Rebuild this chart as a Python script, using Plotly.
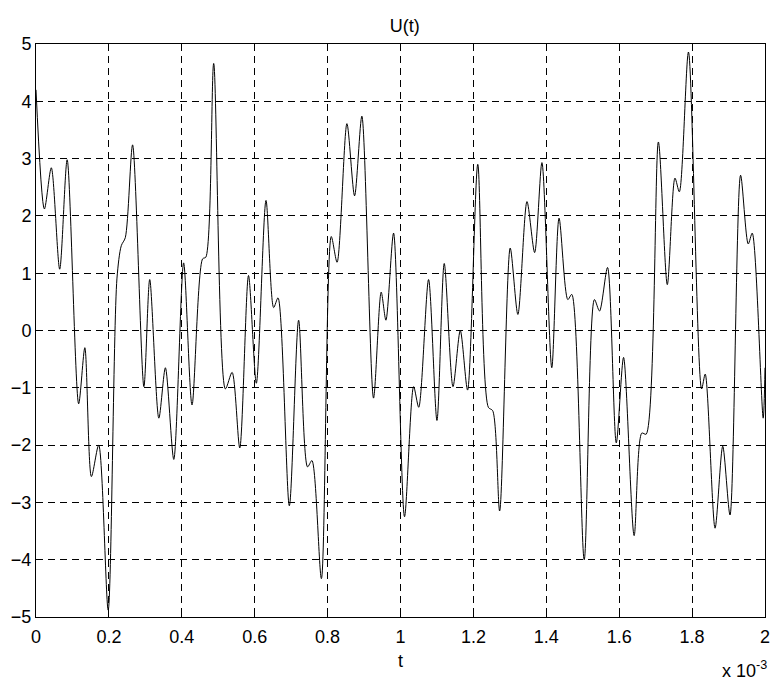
import plotly.graph_objects as go

# time in units of 1e-3 s, signal value U(t)
t_ms = [0.000, 0.023, 0.042, 0.065, 0.0855, 0.117, 0.134, 0.152, 0.172, 0.198,
        0.222, 0.234, 0.245, 0.265, 0.296, 0.312, 0.337, 0.355, 0.378, 0.405,
        0.428, 0.457, 0.466, 0.4875, 0.5195, 0.538, 0.559, 0.583, 0.6045, 0.631,
        0.652, 0.664, 0.695, 0.7205, 0.745, 0.757, 0.783, 0.810, 0.826, 0.853,
        0.874, 0.894, 0.926, 0.947, 0.960, 0.981, 1.011, 1.036, 1.050, 1.077,
        1.100, 1.120, 1.144, 1.164, 1.184, 1.212, 1.241, 1.253, 1.272, 1.301,
        1.322, 1.347, 1.368, 1.388, 1.415, 1.435, 1.459, 1.470, 1.504, 1.532,
        1.546, 1.568, 1.592, 1.612, 1.641, 1.662, 1.674, 1.7075, 1.732, 1.753,
        1.765, 1.790, 1.826, 1.836, 1.863, 1.884, 1.904, 1.933, 1.954, 1.965,
        1.995, 2.000]
u_vals = [4.20, 2.12, 2.84, 1.07, 2.98, -1.28, -0.30, -2.55, -2.00, -4.88,
          0.90, 1.48, 1.62, 3.24, -0.98, 0.89, -1.53, -0.65, -2.25, 1.18,
          -1.30, 1.25, 1.28, 4.66, -1.02, -0.73, -2.05, 0.96, -0.92, 2.27,
          0.40, 0.57, -3.06, 0.18, -2.38, -2.27, -4.33, 1.64, 1.19, 3.61,
          2.35, 3.74, -1.18, 0.67, 0.18, 1.70, -3.25, -0.98, -1.34, 0.89,
          -1.57, 1.17, -0.98, 0.00, -1.04, 2.90, -1.34, -1.40, -3.15, 1.44,
          0.28, 2.25, 1.36, 2.93, -0.65, 1.96, 0.54, 0.63, -4.00, 0.54,
          0.34, 1.10, -1.96, -0.47, -3.58, -1.79, -1.81, 3.29, 0.80, 2.66,
          2.42, 4.86, -1.02, -0.76, -3.45, -2.02, -3.22, 2.71, 1.51, 1.70,
          -1.53, -0.65]

x_ticks = [0, 0.2, 0.4, 0.6, 0.8, 1.0, 1.2, 1.4, 1.6, 1.8, 2.0]
x_tick_labels = ["0", "0.2", "0.4", "0.6", "0.8", "1", "1.2", "1.4", "1.6", "1.8", "2"]
y_ticks = [-5, -4, -3, -2, -1, 0, 1, 2, 3, 4, 5]

font_family = "Liberation Sans, Arial, sans-serif"
FS = 18

fig = go.Figure()
fig.add_trace(go.Scatter(
    x=t_ms, y=u_vals, mode="lines",
    line=dict(color="black", width=1, shape="spline", smoothing=0.8),
    showlegend=False, hoverinfo="x+y"))

axis_common = dict(
    showline=True, linecolor="black", linewidth=1, mirror="ticks",
    ticks="inside", ticklen=6, tickcolor="black",
    showgrid=True, gridcolor="black", gridwidth=1, griddash="7px,5px",
    zeroline=False, automargin=False,
    tickfont=dict(family=font_family, size=FS, color="black"),
)

fig.update_layout(
    width=771, height=682,
    paper_bgcolor="white", plot_bgcolor="white",
    margin=dict(l=36, r=6, t=44, b=65, autoexpand=False),
    title=dict(text="U(t)", x=0.525, xanchor="center", y=0.963, yanchor="middle",
               font=dict(family=font_family, size=FS, color="black")),
    xaxis=dict(range=[0, 2], tickvals=x_ticks, ticktext=x_tick_labels,
               ticklabelstandoff=3,
               title=dict(text="t", font=dict(family=font_family, size=FS, color="black"),
                          standoff=8),
               **axis_common),
    yaxis=dict(range=[-5, 5], tickvals=y_ticks,
               **axis_common),
    annotations=[dict(text="x 10<sup>-3</sup>", xref="paper", yref="paper",
                      x=1.006, y=-0.116, xanchor="right", yanchor="bottom",
                      showarrow=False,
                      font=dict(family=font_family, size=FS, color="black"))],
)

fig.write_html("out.html",
               config={"displayModeBar": False},
               post_script="document.body.style.margin='0px';document.body.style.padding='0px';")
